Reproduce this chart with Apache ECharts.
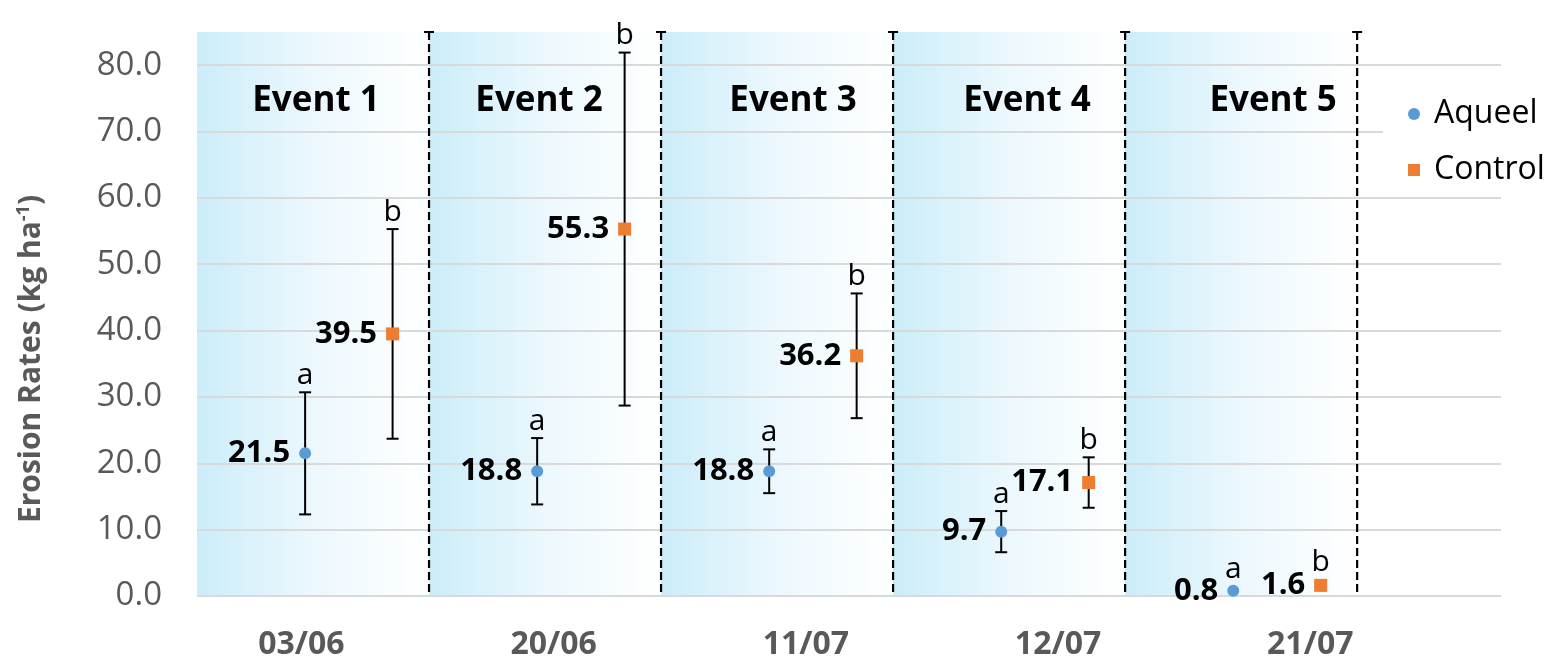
<!DOCTYPE html>
<html>
<head>
<meta charset="utf-8">
<script src="https://cdn.jsdelivr.net/npm/echarts@6/dist/echarts.min.js"></script>
<style>
  html, body { margin: 0; padding: 0; background: #fff; }
  #chart { width: 1548px; height: 660px; }
</style>
</head>
<body>
<div id="chart"></div>
<script>
// data
var dateLabels = ['03/06', '20/06', '11/07', '12/07', '21/07'];
var eventNames = ['Event 1', 'Event 2', 'Event 3', 'Event 4', 'Event 5'];
var aqueelMean = [21.5, 18.8, 18.8, 9.7, 0.8];
var aqueelErr = [9.2, 5.0, 3.3, 3.1, 0];
var aqueelLetters = ['a', 'a', 'a', 'a', 'a'];
var controlMean = [39.5, 55.3, 36.2, 17.1, 1.6];
var controlErr = [15.8, 26.6, 9.4, 3.8, 0.3];
var controlLetters = ['b', 'b', 'b', 'b', 'b'];

// layout (each event occupies one unit on the x axis)
var X_MAX = 5.62;
var Y_MAX = 85;
var AQ_OFFSET = 0.466;
var CT_OFFSET = 0.843;
var labelPos = dateLabels.map(function (d, i) { return 0.45 + i * 1.087; });
var eventLabelShift = [3, -6, 16, 18, 32]; // px, the text boxes are not centred
var FONT = 'Open Sans';

function points(means, offset) {
  return means.map(function (v, i) { return [i + offset, v]; });
}
function bars(means, errs, offset) {
  return means.map(function (v, i) { return [i + offset, v - errs[i], v + errs[i]]; });
}

function errorBar(letters) {
  return function (params, api) {
    var x = api.value(0), lo = api.value(1), hi = api.value(2);
    var top = api.coord([x, hi]);
    var bot = api.coord([x, lo]);
    var cap = 6;
    var line = { stroke: '#000', lineWidth: 2 };
    var children = [];
    if (hi > lo) {
      children.push({ type: 'line', shape: { x1: top[0], y1: top[1], x2: bot[0], y2: bot[1] }, style: line });
      children.push({ type: 'line', shape: { x1: top[0] - cap, y1: top[1], x2: top[0] + cap, y2: top[1] }, style: line });
      children.push({ type: 'line', shape: { x1: bot[0] - cap, y1: bot[1], x2: bot[0] + cap, y2: bot[1] }, style: line });
    }
    var gap = (hi - lo) > 1 ? 2 : 6;
    children.push({
      type: 'text',
      x: top[0], y: top[1] - gap,
      style: {
        text: letters[params.dataIndex], fill: '#000',
        font: '30px "' + FONT + '"', align: 'center', verticalAlign: 'bottom'
      }
    });
    return { type: 'group', children: children };
  };
}

function divider(params, api) {
  var x = api.value(0);
  var top = api.coord([x, Y_MAX]);
  var bot = api.coord([x, 0]);
  return {
    type: 'group',
    children: [
      { type: 'line', shape: { x1: top[0], y1: top[1], x2: bot[0], y2: bot[1] },
        style: { stroke: '#000', lineWidth: 2.2, lineDash: [8, 4] } },
      { type: 'line', shape: { x1: top[0] - 5, y1: top[1], x2: top[0] + 5, y2: top[1] },
        style: { stroke: '#000', lineWidth: 2 } }
    ]
  };
}

var bandData = eventNames.map(function (name, i) {
  return [
    { name: name, xAxis: i, yAxis: 0, label: { offset: [eventLabelShift[i], 0] } },
    { xAxis: i + 1, yAxis: Y_MAX }
  ];
});

var valueLabel = {
  show: true, position: 'left', distance: 9,
  fontSize: 31, fontWeight: 'bold', color: '#000',
  formatter: function (p) { return p.value[1].toFixed(1); }
};

var chart = echarts.init(document.getElementById('chart'));
chart.setOption({
  animation: false,
  textStyle: { fontFamily: FONT },
  grid: { left: 197, right: 47, top: 32, bottom: 64, outerBoundsMode: 'none' },
  legend: {
    data: ['Aqueel', 'Control'],
    orient: 'vertical',
    left: 1383,
    top: 74,
    padding: [20, 12, 0, 25],
    backgroundColor: '#fff',
    itemWidth: 12,
    itemHeight: 12,
    itemGap: 16,
    textStyle: { fontSize: 32, color: '#000', lineHeight: 40, padding: [0, 0, 0, 9], fontFamily: FONT }
  },
  xAxis: {
    type: 'value',
    min: 0,
    max: X_MAX,
    splitLine: { show: false },
    axisLine: { show: false },
    axisTick: { show: false },
    axisLabel: {
      customValues: labelPos,
      formatter: function (v) {
        for (var i = 0; i < labelPos.length; i++) {
          if (Math.abs(labelPos[i] - v) < 1e-6) return dateLabels[i];
        }
        return '';
      },
      margin: 33,
      fontSize: 32,
      lineHeight: 32,
      fontWeight: 'bold',
      color: '#595959'
    }
  },
  yAxis: {
    type: 'value',
    min: 0,
    max: Y_MAX,
    interval: 10,
    name: 'Erosion Rates (kg ha{sup|-1})',
    nameLocation: 'middle',
    nameGap: 150,
    nameTextStyle: {
      fontSize: 30, fontWeight: 'bold', color: '#595959',
      padding: [0, 90, 0, 0],
      rich: { sup: { fontSize: 18, fontWeight: 'bold', color: '#595959', verticalAlign: 'top', padding: [0, 0, 14, 0] } }
    },
    axisLine: { show: false },
    axisTick: { show: false },
    splitLine: { showMaxLine: false, lineStyle: { color: '#d9d9d9', width: 2 } },
    axisLabel: {
      showMaxLabel: false,
      margin: 35,
      fontSize: 33,
      color: '#595959',
      formatter: function (v) { return v > 80 ? '' : v.toFixed(1); }
    }
  },
  series: [
    {
      name: 'bands',
      type: 'line',
      data: [],
      z: -1,
      silent: true,
      markArea: {
        silent: true,
        z: -1,
        itemStyle: {
          color: new echarts.graphic.LinearGradient(0, 0, 1, 0, [
            { offset: 0, color: '#cbedf9' },
            { offset: 0.5, color: '#ecf8fd' },
            { offset: 1, color: '#ffffff' }
          ])
        },
        label: {
          show: true,
          position: 'insideTop',
          distance: 52,
          fontSize: 35,
          fontWeight: 'bold',
          color: '#000'
        },
        data: bandData
      }
    },
    {
      name: 'dividers',
      type: 'custom',
      silent: true,
      z: 1,
      renderItem: divider,
      data: eventNames.map(function (n, i) { return [i + 1]; })
    },
    {
      name: 'Aqueel error',
      type: 'custom',
      z: 3,
      renderItem: errorBar(aqueelLetters),
      data: bars(aqueelMean, aqueelErr, AQ_OFFSET)
    },
    {
      name: 'Control error',
      type: 'custom',
      z: 3,
      renderItem: errorBar(controlLetters),
      data: bars(controlMean, controlErr, CT_OFFSET)
    },
    {
      name: 'Aqueel',
      type: 'scatter',
      z: 4,
      symbol: 'circle',
      symbolSize: 12,
      itemStyle: { color: '#5b9bd5', opacity: 1 },
      label: valueLabel,
      data: points(aqueelMean, AQ_OFFSET)
    },
    {
      name: 'Control',
      type: 'scatter',
      z: 4,
      symbol: 'rect',
      symbolSize: 13,
      itemStyle: { color: '#ed7d31', opacity: 1 },
      label: valueLabel,
      data: points(controlMean, CT_OFFSET)
    }
  ]
});
</script>
</body>
</html>
